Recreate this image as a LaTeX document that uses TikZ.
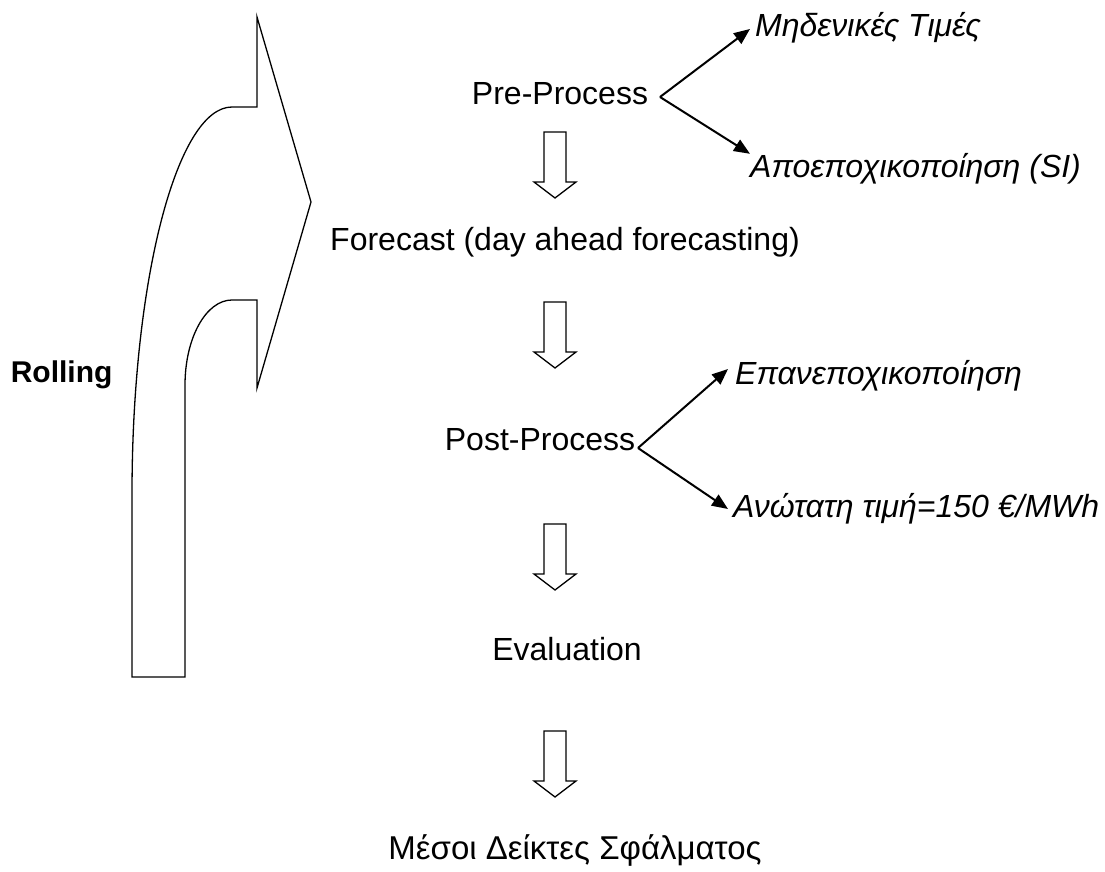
\documentclass[tikz,border=0pt]{standalone}
\usepackage{fontspec}
\setmainfont{Liberation Sans}
\usetikzlibrary{arrows.meta}

\tikzset{
  txt/.style={font=\fontsize{32}{38}\selectfont, anchor=base},
  lbl/.style={font=\fontsize{32}{38}\selectfont\itshape, anchor=base west,
    inner sep=0pt, text height=23pt, text depth=7pt},
  fan/.style={line width=2pt, -{Triangle[length=16pt,width=13pt]}},
  outline/.style={line width=1.3pt, line join=miter},
  blockdown/.pic={\draw[outline] (-11,0) -- (11,0) -- (11,50) -- (21,50)
    -- (0,66) -- (-21,50) -- (-11,50) -- cycle;}
}

\begin{document}
\begin{tikzpicture}[x=1pt,y=-1pt]
\useasboundingbox (0,0) rectangle (1105,872);

% rolling arrow
\draw[outline] (257,17) -- (311,202) -- (257,388) -- (257,300) -- (232,300)
  .. controls (206,300) and (185,338) .. (185,385) -- (185,677) -- (132,677)
  -- (132,494) .. controls (132,280) and (177,107) .. (232,107) -- (257,107) -- cycle;
\node[txt, font=\fontsize{30}{36}\selectfont\bfseries, anchor=base east] (roll) at (116,382) {Rolling};

% steps
\node[txt] (pre) at (560,105) {Pre-Process};
\node[txt] (fc) at (565,250) {Forecast (day ahead forecasting)};
\node[txt] (post) at (540,450) {Post-Process};
\node[txt] (eval) at (567,660) {Evaluation};
\node[txt, font=\fontsize{33}{39}\selectfont] (err) at (575,859) {Μέσοι Δείκτες Σφάλματος};

\pic at (555,132) {blockdown};
\pic at (555,302) {blockdown};
\pic at (555,524) {blockdown};
\pic at (555,731) {blockdown};

% sub-steps
\node[lbl] (zero) at (755,37) {Μηδενικές Τιμές};
\node[lbl] (desea) at (750,177) {Αποεποχικοποίηση (SI)};
\node[lbl] (resea) at (735,384) {Επανεποχικοποίηση};
\node[lbl] (cap) at (733,517) {Ανώτατη τιμή=150 €/MWh};

\coordinate (prefork) at (660,97);
\coordinate (postfork) at (638,448);
\draw[fan] (prefork) -- ([xshift=-5pt]zero.west);
\draw[fan] (prefork) -- (desea.north west);
\draw[fan] (postfork) -- ([shift={(-7,-7)}]resea.west);
\draw[fan] (postfork) -- ([xshift=-5pt]cap.west);
\end{tikzpicture}
\end{document}
